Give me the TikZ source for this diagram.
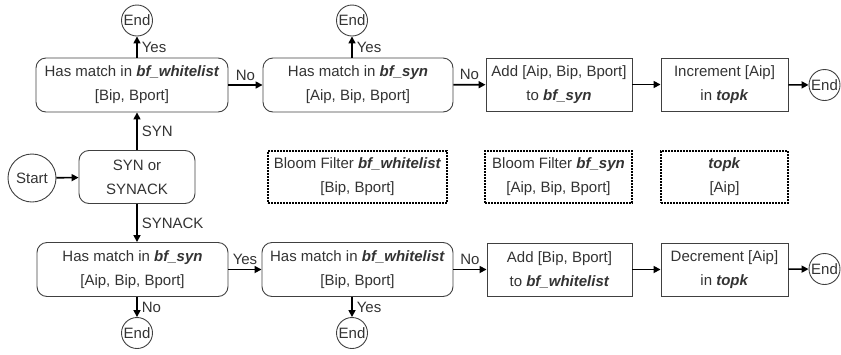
\documentclass[tikz,border=0pt]{standalone}
\usepackage{fontspec}
\setmainfont{Liberation Sans}
\usetikzlibrary{arrows.meta}
\definecolor{txt}{HTML}{333333}
\definecolor{edge}{HTML}{404040}
\begin{document}
\begin{tikzpicture}[x=1pt,y=-1pt,
  every node/.style={text=txt,font=\fontsize{15}{24}\selectfont},
  rbox/.style={draw=edge,line width=0.9pt,rounded corners=10pt,align=center,minimum height=54pt,inner sep=0pt},
  sbox/.style={draw=edge,line width=0.9pt,align=center,minimum height=53pt,inner sep=0pt},
  dbox/.style={draw=black,line width=1.4pt,dash pattern=on 2pt off 1pt,align=center,minimum height=52pt,inner sep=0pt},
  endc/.style={draw=edge,line width=0.9pt,circle,minimum size=31pt,inner sep=0pt},
  arr/.style={line width=1.6pt,-{Triangle[length=7pt,width=7pt]}},
  lab/.style={inner sep=4pt}
]
\useasboundingbox (0,0) rectangle (841,354);
% top row
\node[endc] (e1) at (137,20.5) {End};
\node[endc] (e2) at (352,20.5) {End};
\node[rbox,minimum width=192pt] (t1) at (132,85) {Has match in \textbf{\textit{bf\_whitelist}}\\{}[Bip, Bport]};
\node[rbox,minimum width=190pt] (t2) at (358,85) {Has match in \textbf{\textit{bf\_syn}}\\{}[Aip, Bip, Bport]};
\node[sbox,minimum width=146pt] (t3) at (559,84.5) {Add [Aip, Bip, Bport]\\to \textbf{\textit{bf\_syn}}};
\node[sbox,minimum width=127pt] (t4) at (724.5,84.5) {Increment [Aip]\\in \textbf{\textit{topk}}};
\node[endc] (e3) at (824.5,85) {End};
% middle row
\node[endc,minimum size=48pt] (start) at (32,178) {Start};
\node[rbox,minimum width=116pt,minimum height=53pt] (syn) at (137,177) {SYN or\\SYNACK};
\node[dbox,minimum width=179pt] (d1) at (357.5,177) {Bloom Filter \textbf{\textit{bf\_whitelist}}\\{}[Bip, Bport]};
\node[dbox,minimum width=147pt] (d2) at (558.5,177) {Bloom Filter \textbf{\textit{bf\_syn}}\\{}[Aip, Bip, Bport]};
\node[dbox,minimum width=127pt] (d3) at (724.5,177) {\textbf{\textit{topk}}\\{}[Aip]};
% bottom row
\node[rbox,minimum width=191pt] (b1) at (132.5,269.5) {Has match in \textbf{\textit{bf\_syn}}\\{}[Aip, Bip, Bport]};
\node[rbox,minimum width=191pt] (b2) at (357.5,269.5) {Has match in \textbf{\textit{bf\_whitelist}}\\{}[Bip, Bport]};
\node[sbox,minimum width=145pt] (b3) at (559.5,269.5) {Add [Bip, Bport]\\to \textbf{\textit{bf\_whitelist}}};
\node[sbox,minimum width=127pt] (b4) at (724.5,269.5) {Decrement [Aip]\\in \textbf{\textit{topk}}};
\node[endc] (e4) at (824.5,269) {End};
\node[endc] (e5) at (137,333) {End};
\node[endc] (e6) at (352,333) {End};
% connectors
\draw[arr] (start) -- (syn);
\draw[arr] (syn.north) -- node[right,lab]{SYN} (syn.north |- t1.south);
\draw[arr] (syn.south) -- node[right,lab]{SYNACK} (syn.south |- b1.north);
\draw[arr] (e1.south |- t1.north) -- node[right,lab]{Yes} (e1);
\draw[arr] (e2.south |- t2.north) -- node[right,lab]{Yes} (e2);
\draw[arr] (t1) -- node[above,lab]{No} (t2);
\draw[arr] (t2) -- node[above,lab]{No} (t3);
\draw[arr] (t3) -- (t4);
\draw[arr] (t4) -- (e3);
\draw[arr] (b1) -- node[above,lab]{Yes} (b2);
\draw[arr] (b2) -- node[above,lab]{No} (b3);
\draw[arr] (b3) -- (b4);
\draw[arr] (b4) -- (e4);
\draw[arr] (e5.north |- b1.south) -- node[right,lab]{No} (e5);
\draw[arr] (e6.north |- b2.south) -- node[right,lab]{Yes} (e6);
\end{tikzpicture}
\end{document}
